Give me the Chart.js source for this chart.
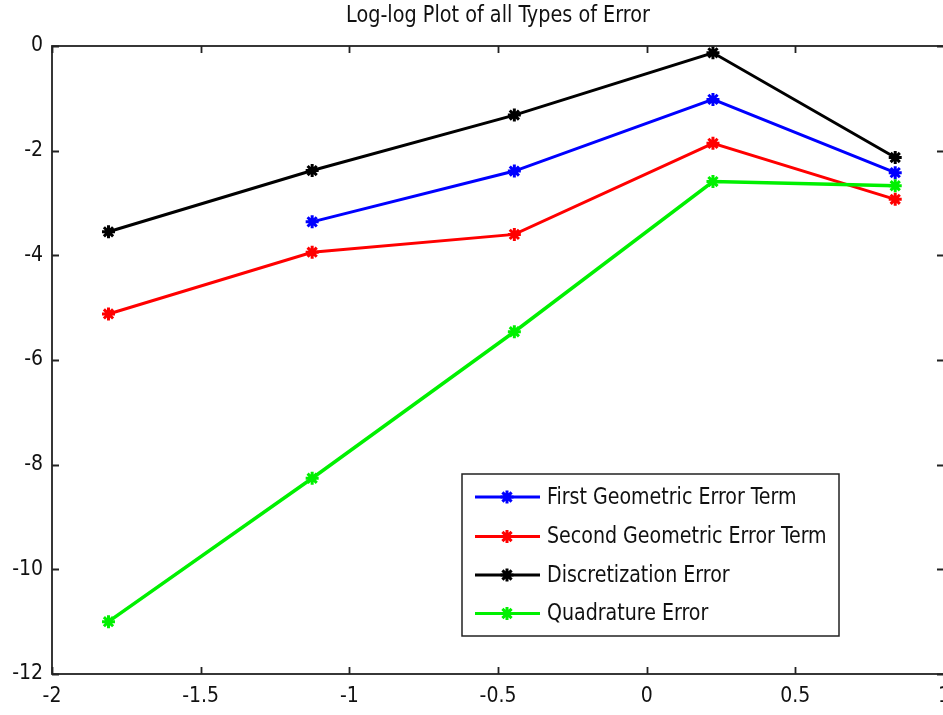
<!DOCTYPE html>
<html>
<head>
<meta charset="utf-8">
<script src="https://cdn.jsdelivr.net/npm/chart.js@4.4.1/dist/chart.umd.min.js"></script>
<style>
  html, body { margin: 0; padding: 0; background: #fff; overflow: hidden; }
  #wrap { position: relative; width: 960px; height: 715px; }
</style>
</head>
<body>
<div id="wrap"><canvas id="c"></canvas></div>
<script>
const chartTitle = "Log-log Plot of all Types of Error";
const xValues = [-1.81, -1.125, -0.445, 0.223, 0.836];
const seriesNames = ["First Geometric Error Term", "Second Geometric Error Term", "Discretization Error", "Quadrature Error"];
const firstGeometric = [null, -3.36, -2.39, -1.02, -2.42];
const secondGeometric = [-5.12, -3.94, -3.60, -1.86, -2.93];
const discretization = [-3.55, -2.38, -1.32, -0.13, -2.13];
const quadrature = [-11.0, -8.26, -5.46, -2.59, -2.67];
const seriesColors = ["#0000ff", "#ff0000", "#000000", "#00f000"];
const xTicks = [-2, -1.5, -1, -0.5, 0, 0.5, 1];
const yTicks = [0, -2, -4, -6, -8, -10, -12];

const FONT = '"Liberation Sans Narrow", "DejaVu Sans Condensed", "Arial Narrow", sans-serif';
const allSeries = [firstGeometric, secondGeometric, discretization, quadrature];

function toPoints(arr) {
  return arr.map((v, i) => ({ x: xValues[i], y: v })).filter(p => p.y !== null);
}

const datasets = allSeries.map((s, i) => ({
  label: seriesNames[i],
  data: toPoints(s),
  borderColor: seriesColors[i],
  backgroundColor: seriesColors[i],
  borderWidth: i === 3 ? 3.5 : 3,
  pointStyle: 'star',
  pointRadius: 6.5,
  pointBorderWidth: 3,
  pointBorderColor: seriesColors[i],
  tension: 0,
  order: 3 - i,
  clip: false
}));

const boxPlugin = {
  id: 'boxTicks',
  afterDatasetsDraw(chart) {
    const { ctx, chartArea: a, scales } = chart;
    ctx.save();
    ctx.strokeStyle = '#222';
    ctx.lineWidth = 1.8;
    ctx.strokeRect(a.left, a.top, a.right - a.left, a.bottom - a.top);
    const L = 7;
    ctx.beginPath();
    scales.x.ticks.forEach(t => {
      const px = Math.round(scales.x.getPixelForValue(t.value)) + 0.5;
      ctx.moveTo(px, a.bottom); ctx.lineTo(px, a.bottom - L);
      ctx.moveTo(px, a.top); ctx.lineTo(px, a.top + L);
    });
    scales.y.ticks.forEach(t => {
      const py = Math.round(scales.y.getPixelForValue(t.value)) + 0.5;
      ctx.moveTo(a.left, py); ctx.lineTo(a.left + L, py);
      ctx.moveTo(a.right, py); ctx.lineTo(a.right - L, py);
    });
    ctx.stroke();
    ctx.restore();
  },
  afterDraw(chart) {
    const { ctx, chartArea: a } = chart;
    ctx.save();
    // title
    ctx.font = '23px ' + FONT;
    ctx.fillStyle = '#111';
    ctx.textAlign = 'center';
    ctx.textBaseline = 'middle';
    ctx.save();
    ctx.translate((a.left + a.right) / 2, 16);
    ctx.scale(0.93, 1);
    ctx.fillText(chartTitle, 0, 0);
    ctx.restore();
    // legend
    const bx = 462, by = 474, bw = 377, bh = 162;
    ctx.fillStyle = '#fff';
    ctx.fillRect(bx, by, bw, bh);
    ctx.strokeStyle = '#222';
    ctx.lineWidth = 1.5;
    ctx.strokeRect(bx, by, bw, bh);
    const rows = [497, 536.5, 575, 613.5];
    ctx.font = '23px ' + FONT;
    ctx.textBaseline = 'middle';
    ctx.textAlign = 'left';
    chart.data.datasets.forEach((ds, i) => {
      const y = rows[i];
      ctx.strokeStyle = ds.borderColor;
      ctx.lineWidth = 3;
      ctx.beginPath();
      ctx.moveTo(475, y); ctx.lineTo(540, y);
      ctx.stroke();
      Chart.helpers.drawPoint(ctx, { pointStyle: 'star', radius: 6.5, rotation: 0, borderWidth: 3 }, 507, y);
      ctx.fillStyle = '#111';
      ctx.save();
      ctx.translate(547, y + 1);
      ctx.scale(0.92, 1);
      ctx.fillText(ds.label, 0, 0);
      ctx.restore();
    });
    ctx.restore();
  }
};

function fmt(v) {
  const r = Math.round(v * 10) / 10;
  return String(r);
}

new Chart(document.getElementById('c'), {
  type: 'line',
  data: { datasets },
  options: {
    responsive: true,
    maintainAspectRatio: false,
    animation: false,
    layout: { padding: { left: 0, right: 8, top: 46, bottom: 0 } },
    plugins: {
      legend: { display: false },
      tooltip: { enabled: false },
      title: { display: false }
    },
    scales: {
      x: {
        type: 'linear',
        min: -2, max: 1,
        afterBuildTicks(scale) { scale.ticks = xTicks.map(v => ({ value: v })); },
        afterFit(scale) { scale.height = 41; },
        ticks: {
          callback: v => fmt(v),
          color: '#111',
          padding: 10,
          maxRotation: 0,
          autoSkip: false,
          font: { family: FONT, size: 21 }
        },
        grid: { display: true, drawOnChartArea: false, drawTicks: false },
        border: { display: false }
      },
      y: {
        type: 'linear',
        min: -12, max: 0,
        afterBuildTicks(scale) { scale.ticks = yTicks.map(v => ({ value: v })); },
        afterFit(scale) { scale.width = 52; },
        ticks: {
          callback: v => fmt(v),
          color: '#111',
          padding: 9,
          autoSkip: false,
          font: { family: FONT, size: 21 }
        },
        grid: { display: true, drawOnChartArea: false, drawTicks: false },
        border: { display: false }
      }
    }
  },
  plugins: [boxPlugin]
});
</script>
</body>
</html>
